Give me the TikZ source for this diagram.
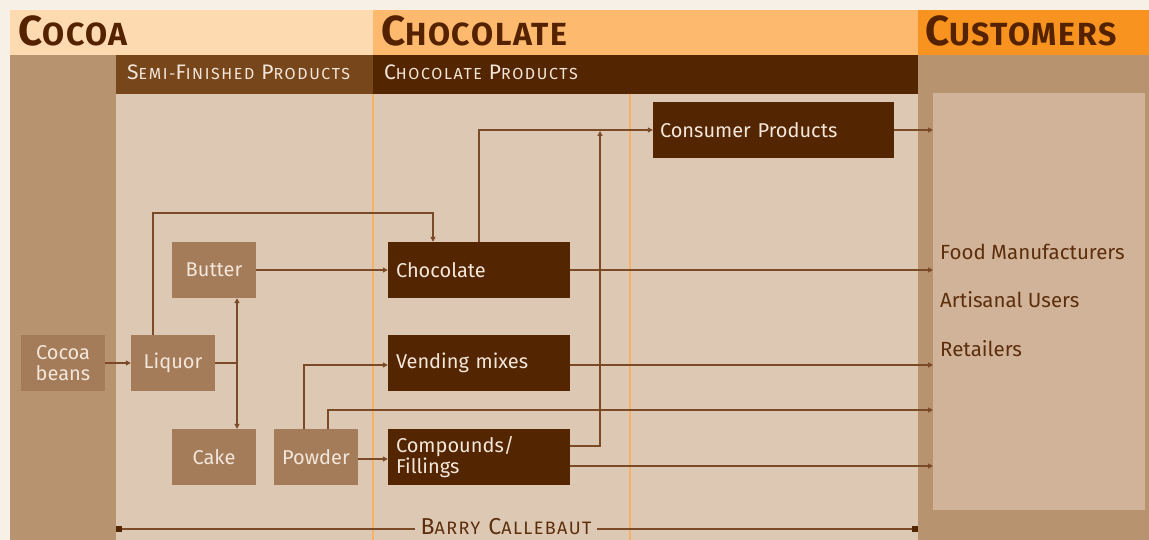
\documentclass[tikz,border=0pt]{standalone}
\usepackage{fontspec}
\setmainfont{Fira Sans}
\usetikzlibrary{arrows.meta}
\definecolor{outerbg}{HTML}{F7F0E6}
\definecolor{hcocoa}{HTML}{FDDAB0}
\definecolor{hchoc}{HTML}{FDB96D}
\definecolor{hcust}{HTML}{F7931E}
\definecolor{tan}{HTML}{B7936F}
\definecolor{subbrown}{HTML}{77461A}
\definecolor{darkb}{HTML}{532500}
\definecolor{body}{HTML}{DDC8B4}
\definecolor{panel}{HTML}{D0B399}
\definecolor{midbox}{HTML}{A47C5A}
\definecolor{boxtext}{HTML}{F3E6DA}
\definecolor{linec}{HTML}{7B4A26}
\definecolor{vline}{HTML}{F7B166}
\definecolor{headtext}{HTML}{552200}
\definecolor{custtext}{HTML}{5C2E0C}
\newcommand\HSC[2]{{\fontsize{42pt}{42pt}\selectfont #1}{\fontsize{32pt}{32pt}\selectfont #2}}
\newcommand\SSC[2]{{\fontsize{21pt}{21pt}\selectfont #1}{\fontsize{16pt}{16pt}\selectfont #2}}
\newcommand\BSC[2]{{\fontsize{23pt}{23pt}\selectfont #1}{\fontsize{18pt}{18pt}\selectfont #2}}
\begin{document}
\begin{tikzpicture}[x=1pt,y=-1pt,
  midnode/.style={fill=midbox, text=boxtext, minimum width=84pt, minimum height=56pt, inner sep=0pt, align=center, font=\fontsize{20pt}{21pt}\selectfont},
  darknode/.style={fill=darkb, text=boxtext, minimum height=56pt, inner xsep=8pt, inner ysep=0pt, align=left, font=\fontsize{20pt}{21pt}\selectfont},
  headlabel/.style={anchor=base west, inner sep=0pt, text=headtext, font=\bfseries\addfontfeature{LetterSpace=5}},
  sublabel/.style={anchor=base west, inner sep=0pt, text=boxtext, font=\addfontfeature{LetterSpace=10}},
  custlabel/.style={anchor=base west, inner sep=0pt, text=custtext, font=\fontsize{20.5pt}{22pt}\selectfont},
  conn/.style={draw=linec, line width=1.2pt, -{Triangle[length=5pt,width=5pt]}},
  plain/.style={draw=linec, line width=1.2pt},
  sqmark/.style={fill=darkb, minimum size=6pt, inner sep=0pt}
]
\useasboundingbox (0,0) rectangle (1149,540);
% backgrounds
\fill[outerbg] (0,0) rectangle (1149,540);
\fill[hcocoa] (10,10) rectangle (373,55);
\fill[hchoc] (373,10) rectangle (918,55);
\fill[hcust] (918,10) rectangle (1149,55);
\fill[tan] (10,55) rectangle (116,540);
\fill[subbrown] (116,55) rectangle (373,94);
\fill[darkb] (373,55) rectangle (918,94);
\fill[tan] (918,55) rectangle (1149,540);
\fill[body] (116,94) rectangle (918,540);
\fill[panel] (933,93) rectangle (1145,510);
\draw[vline, line width=1.3pt] (373,94) -- (373,540);
\draw[vline, line width=1.3pt] (630,94) -- (630,540);
% headings
\node[headlabel] (hcoc) at (18,46) {\HSC{C}{OCOA}};
\node[headlabel] (hchocl) at (381,46) {\HSC{C}{HOCOLATE}};
\node[headlabel] (hcus) at (925,46) {\HSC{C}{USTOMERS}};
\node[sublabel] (hsemi) at (127,80) {\SSC{S}{EMI-}\SSC{F}{INISHED}\hspace{7pt}\SSC{P}{RODUCTS}};
\node[sublabel] (hprod) at (384,80) {\SSC{C}{HOCOLATE}\hspace{7pt}\SSC{P}{RODUCTS}};
% nodes
\node[midnode] (beans) at (63,363) {Cocoa\\beans};
\node[midnode] (liquor) at (173,363) {Liquor};
\node[midnode] (butter) at (214,270) {Butter};
\node[midnode] (cake) at (214,457) {Cake};
\node[midnode] (powder) at (316,457) {Powder};
\node[darknode, text width=166pt] (choc) at (479,270) {Chocolate};
\node[darknode, text width=166pt] (vend) at (479,363) {Vending mixes};
\node[darknode, text width=166pt] (comp) at (479,457) {Compounds/\\Fillings};
\node[darknode, inner xsep=7pt, text width=227pt] (cons) at (773.5,130) {Consumer Products};
% customers
\node[custlabel] (food) at (940,260) {Food Manufacturers};
\node[custlabel] (art) at (940,308) {Artisanal Users};
\node[custlabel] (ret) at (940,356) {Retailers};
\coordinate (custedge) at (933,0);
\coordinate (lq) at (237,363);
% connectors
\draw[conn] (beans.east) -- (liquor.west);
\draw[plain] (liquor.east) -- (lq);
\draw[conn] (lq) -- ([xshift=23pt]butter.south);
\draw[conn] (lq) -- ([xshift=23pt]cake.north);
\draw[conn] ([xshift=-20pt]liquor.north) |- (433,213) -- ([xshift=-46pt]choc.north);
\draw[conn] (butter.east) -- (choc.west);
\draw[conn] (choc.north) |- (cons.west);
\draw[conn] ([yshift=11pt]comp.east) -| (600,131);
\draw[conn] (cons.east) -- (cons.east -| custedge);
\draw[conn] (choc.east) -- (choc.east -| custedge);
\draw[conn] ([yshift=-2pt]vend.east) -- ([yshift=-2pt]vend.east -| custedge);
\draw[conn] ([xshift=12pt]powder.north) |- (933,410);
\draw[conn] ([xshift=-12pt]powder.north) |- ([yshift=-2pt]vend.west);
\draw[conn] ([yshift=-2pt]powder.east) -- ([yshift=-2pt]comp.west);
\draw[conn] ([yshift=-9pt]comp.east) -- ([yshift=-9pt]comp.east -| custedge);
% Barry Callebaut
\node[sqmark, anchor=west] (bl) at (116,529) {};
\node[sqmark, anchor=east] (br) at (918,529) {};
\draw[plain] (bl) -- (br);
\node[fill=body, inner xsep=6pt, inner ysep=2pt, text=custtext, font=\addfontfeature{LetterSpace=8}] (barry) at (506,527) {\BSC{B}{ARRY}\hspace{8pt}\BSC{C}{ALLEBAUT}};
\end{tikzpicture}
\end{document}
